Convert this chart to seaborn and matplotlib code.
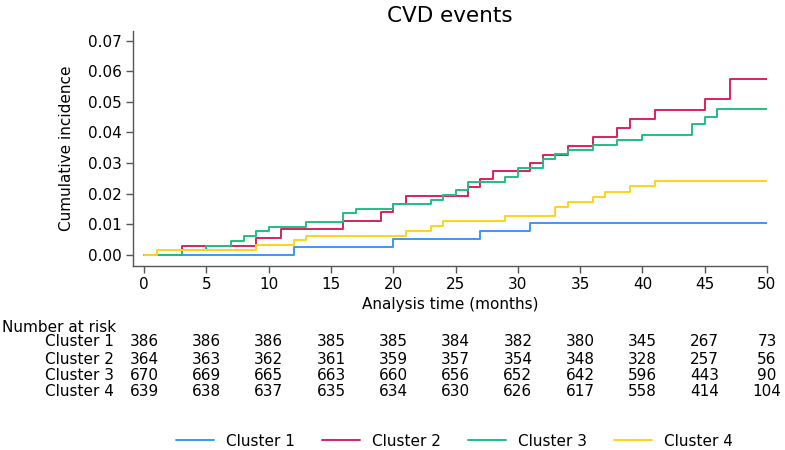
import pandas as pd
import numpy as np
import matplotlib
matplotlib.use("Agg")
import matplotlib.pyplot as plt
import matplotlib.transforms as mtransforms
import seaborn as sns

# step points (month, cumulative incidence)
c1_t = [0, 12, 20, 27, 31, 50]
c1_y = [0, 0.0026, 0.0052, 0.0078, 0.0104, 0.0104]

c2_t = [0, 3, 9, 11, 16, 19, 20, 21, 26, 27, 28, 31, 32, 34, 36, 38, 39, 41, 45, 47, 50]
c2_y = [0, 0.0027, 0.0055, 0.0083, 0.0110, 0.0138, 0.0167, 0.0193, 0.0220, 0.0246, 0.0275,
        0.0300, 0.0327, 0.0357, 0.0385, 0.0414, 0.0443, 0.0472, 0.0508, 0.0575, 0.0575]

c3_t = [0, 3, 5, 7, 8, 9, 10, 13, 16, 17, 20, 23, 24, 25, 26, 29, 30, 32, 33, 34, 36, 38,
        40, 44, 45, 46, 50]
c3_y = [0, 0.0016, 0.0030, 0.0046, 0.0061, 0.0076, 0.0090, 0.0106, 0.0135, 0.0149, 0.0165,
        0.0180, 0.0195, 0.0210, 0.0239, 0.0254, 0.0284, 0.0314, 0.0329, 0.0344, 0.0359,
        0.0374, 0.0390, 0.0429, 0.0449, 0.0477, 0.0477]

c4_t = [0, 1, 9, 12, 13, 21, 23, 24, 29, 33, 34, 36, 37, 39, 41, 50]
c4_y = [0, 0.0016, 0.0032, 0.0047, 0.0062, 0.0079, 0.0094, 0.0110, 0.0125, 0.0157, 0.0172,
        0.0189, 0.0205, 0.0224, 0.0240, 0.0240]

clusters = ["Cluster 1", "Cluster 2", "Cluster 3", "Cluster 4"]
colors = ["#3d96f2", "#d8235a", "#1fbf80", "#ffd21e"]

risk_times = [0, 5, 10, 15, 20, 25, 30, 35, 40, 45, 50]
risk_c1 = [386, 386, 386, 385, 385, 384, 382, 380, 345, 267, 73]
risk_c2 = [364, 363, 362, 361, 359, 357, 354, 348, 328, 257, 56]
risk_c3 = [670, 669, 665, 663, 660, 656, 652, 642, 596, 443, 90]
risk_c4 = [639, 638, 637, 635, 634, 630, 626, 617, 558, 414, 104]

frames = []
for name, t, y in zip(clusters, [c1_t, c2_t, c3_t, c4_t], [c1_y, c2_y, c3_y, c4_y]):
    frames.append(pd.DataFrame({"month": t, "inc": y, "cluster": name}))
df = pd.concat(frames, ignore_index=True)

sns.set_style("ticks")
plt.rcParams["font.family"] = ["DejaVu Sans"]
plt.rcParams["text.color"] = "black"
plt.rcParams["axes.labelcolor"] = "black"
plt.rcParams["xtick.labelcolor"] = "black"
plt.rcParams["ytick.labelcolor"] = "black"

fig = plt.figure(figsize=(7.85, 4.5), dpi=100)
ax = fig.add_axes([0.1694, 0.4096, 0.8076, 0.5224])

sns.lineplot(data=df, x="month", y="inc", hue="cluster", palette=colors,
             drawstyle="steps-post", linewidth=1.4, legend=False, ax=ax,
             estimator=None, sort=False)

ax.set_xlim(-0.9, 50)
ax.set_ylim(-0.0036, 0.0733)
ax.set_xticks(risk_times)
ax.set_yticks(np.arange(0, 0.071, 0.01))
ax.set_yticklabels([f"{v:.2f}" for v in np.arange(0, 0.071, 0.01)])
ax.tick_params(labelsize=11, length=5, width=1, color="#555555", pad=3)
for s in ["top", "right"]:
    ax.spines[s].set_visible(False)
for s in ["left", "bottom"]:
    ax.spines[s].set_color("#555555")
    ax.spines[s].set_linewidth(1)

ax.set_xlabel("Analysis time (months)", fontsize=11, labelpad=4)
ax.set_ylabel("Cumulative incidence", fontsize=11, labelpad=10)
ax.set_title("CVD events", fontsize=15.5, pad=6)

# number at risk table
trans = mtransforms.blended_transform_factory(ax.transData, fig.transFigure)
fig.text(0.003, 1 - 327 / 450, "Number at risk", fontsize=11, va="center", ha="left")
row_y = [342, 359, 376, 392]
for name, counts, yy in zip(clusters, [risk_c1, risk_c2, risk_c3, risk_c4], row_y):
    fig.text(0.057, 1 - yy / 450, name, fontsize=11, va="center", ha="left")
    for t, n in zip(risk_times, counts):
        ax.text(t, 1 - yy / 450, str(n), transform=trans, fontsize=11,
                va="center", ha="center", clip_on=False)

handles = ax.get_lines()[:4]
fig.legend(handles, clusters, loc="center", bbox_to_anchor=(0.579, 1 - 441 / 450),
           ncol=4, frameon=False, fontsize=11, handlelength=2.5, columnspacing=1.75,
           handletextpad=0.8, borderpad=0, borderaxespad=0)

fig.savefig("out.png", dpi=100)
